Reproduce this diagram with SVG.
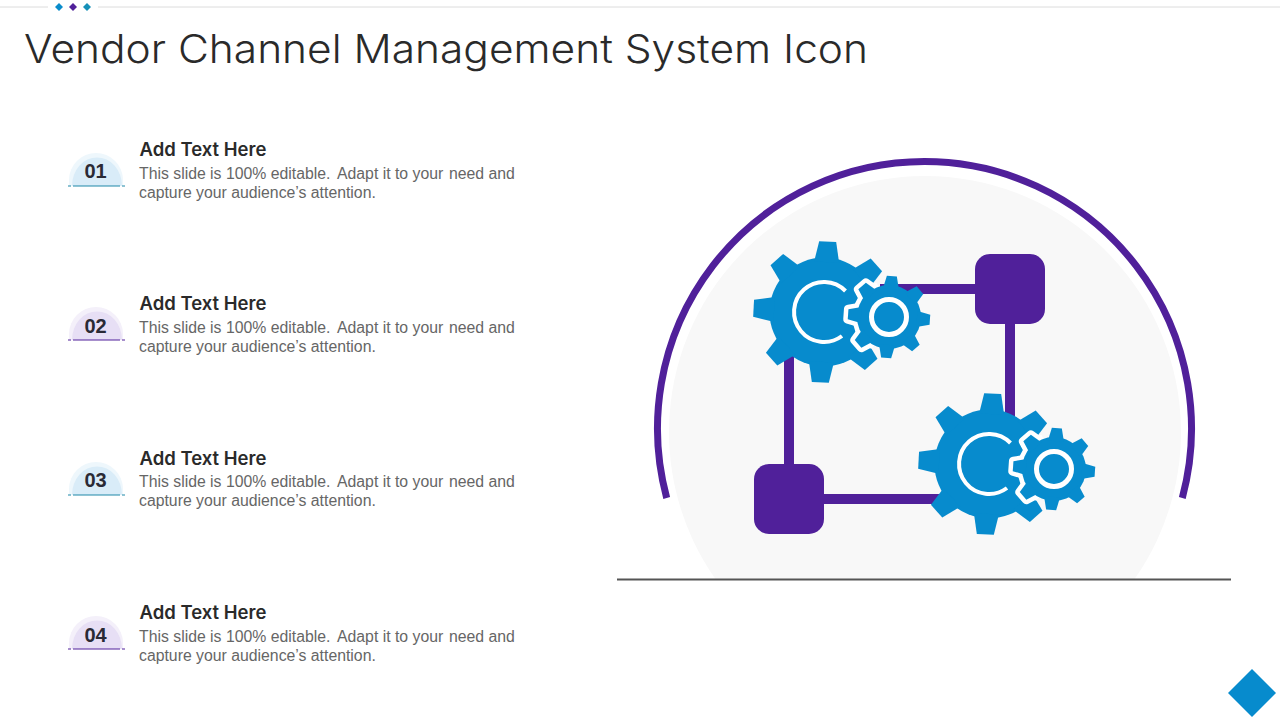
<svg xmlns="http://www.w3.org/2000/svg" width="1280" height="720" viewBox="0 0 1280 720">
<style>
.title{font-family:"Inter","Open Sans",sans-serif;font-weight:300;font-size:40px;fill:#2a2a2a}
.head{font-family:"Inter","Open Sans",sans-serif;font-weight:600;font-size:18.500px;fill:#2a2a2a}
.body{font-family:"Liberation Sans",Arial,sans-serif;font-size:15.800px;fill:#666}
.num{font-family:"Liberation Sans",Arial,sans-serif;font-weight:700;font-size:20px;fill:#2a2a35;text-anchor:middle}
.gear{fill:#078bcd}
.wire{stroke:#50209a;stroke-width:10;fill:none}
.box{fill:#50209a}
.glowb{fill:#eef7fc}
.glowp{fill:#f4f0fa}
.domeb{fill:#d9ecf8}
.domep{fill:#e7dff5}
.lineb{stroke:#1f88a8;stroke-width:1;stroke-dasharray:3 2 47 2 3}
.linep{stroke:#50209a;stroke-width:1;stroke-dasharray:3 2 47 2 3}
</style>
<defs>
<polygon id="tb" points="-12.500,-50 -8.500,-70.500 8.500,-70.500 12.500,-50"/>
<polygon id="ts" points="-8,-28 -5,-41 5,-41 8,-28"/>
<g id="bigGear">
<circle r="54.500"/>
<use href="#tb" transform="rotate(3)"/><use href="#tb" transform="rotate(48)"/><use href="#tb" transform="rotate(93)"/><use href="#tb" transform="rotate(138)"/><use href="#tb" transform="rotate(183)"/><use href="#tb" transform="rotate(228)"/><use href="#tb" transform="rotate(273)"/><use href="#tb" transform="rotate(318)"/>
</g>
<g id="smallGear">
<circle r="32"/>
<use href="#ts" transform="rotate(4)"/><use href="#ts" transform="rotate(49)"/><use href="#ts" transform="rotate(94)"/><use href="#ts" transform="rotate(139)"/><use href="#ts" transform="rotate(184)"/><use href="#ts" transform="rotate(229)"/><use href="#ts" transform="rotate(274)"/><use href="#ts" transform="rotate(319)"/>
</g>
<clipPath id="inBig"><circle cx="0" cy="0" r="60"/></clipPath>
<g id="pair">
<use href="#bigGear" class="gear"/>
<path d="M21.500,-21 A30,30 0 1 0 18,24" fill="none" stroke="#fff" stroke-width="4"/>
<g clip-path="url(#inBig)"><use href="#smallGear" transform="translate(65,5)" fill="#fff" stroke="#fff" stroke-width="9" stroke-linejoin="round"/></g>
<use href="#smallGear" transform="translate(65,5)" class="gear"/>
<circle cx="65" cy="5" r="17.500" fill="none" stroke="#fff" stroke-width="5"/>
</g>
</defs>

<rect width="1280" height="720" fill="#fff"/>
<g id="topbar">
<path d="M0 7H48M98 7H1280" stroke="#dcdcdc" stroke-width="1"/>
<polygon points="59,3 63,7 59,11 55,7" fill="#0a8ccb"/>
<polygon points="73,3 77,7 73,11 69,7" fill="#50209a"/>
<polygon points="87,3 91,7 87,11 83,7" fill="#1590b8"/>
</g>
<text class="title" x="24" y="63" textLength="844" lengthAdjust="spacingAndGlyphs">Vendor Channel Management System Icon</text>

<g id="item1">
<path class="glowb" d="M69 186V180A27 27 0 0 1 123 180V186Z"/>
<path class="domeb" d="M72 186A24.500 28 0 0 1 122 186Z"/>
<path class="lineb" d="M68 186H125"/>
<text class="num" x="95.500" y="178">01</text>
<text class="head" x="139.500" y="156">Add Text Here</text>
<text class="body" y="179"><tspan x="139">This slide is 100% editable.</tspan><tspan x="337">Adapt it to your</tspan><tspan x="449">need and</tspan></text>
<text class="body" x="139" y="198">capture your audience’s attention.</text>
</g>
<g id="item2">
<path class="glowp" d="M69 340V334A27 27 0 0 1 123 334V340Z"/>
<path class="domep" d="M72 340A24.500 28 0 0 1 122 340Z"/>
<path class="linep" d="M68 340H125"/>
<text class="num" x="95.500" y="333">02</text>
<text class="head" x="139.500" y="310">Add Text Here</text>
<text class="body" y="333"><tspan x="139">This slide is 100% editable.</tspan><tspan x="337">Adapt it to your</tspan><tspan x="449">need and</tspan></text>
<text class="body" x="139" y="352">capture your audience’s attention.</text>
</g>
<g id="item3">
<path class="glowb" d="M69 495V489A27 27 0 0 1 123 489V495Z"/>
<path class="domeb" d="M72 495A24.500 28 0 0 1 122 495Z"/>
<path class="lineb" d="M68 495H125"/>
<text class="num" x="95.500" y="487">03</text>
<text class="head" x="139.500" y="465">Add Text Here</text>
<text class="body" y="487"><tspan x="139">This slide is 100% editable.</tspan><tspan x="337">Adapt it to your</tspan><tspan x="449">need and</tspan></text>
<text class="body" x="139" y="506">capture your audience’s attention.</text>
</g>
<g id="item4">
<path class="glowp" d="M69 649V643A27 27 0 0 1 123 643V649Z"/>
<path class="domep" d="M72 649A24.500 28 0 0 1 122 649Z"/>
<path class="linep" d="M68 649H125"/>
<text class="num" x="95.500" y="642">04</text>
<text class="head" x="139.500" y="619">Add Text Here</text>
<text class="body" y="642"><tspan x="139">This slide is 100% editable.</tspan><tspan x="337">Adapt it to your</tspan><tspan x="449">need and</tspan></text>
<text class="body" x="139" y="661">capture your audience’s attention.</text>
</g>

<g id="backdrop">
<path d="M715.400 579A256 256 0 1 1 1134.600 579Z" fill="#f8f8f8"/>
<path d="M666.700 498A267 267 0 1 1 1182.300 498" fill="none" stroke="#50209a" stroke-width="7"/>
<path d="M617 579.500H1231" stroke="#555" stroke-width="2"/>
</g>
<g id="connectors">
<path class="wire" d="M880 289H975M1010 324V420M789 350V464M824 499H940"/>
</g>
<g id="node-top-right"><rect class="box" x="975" y="254" width="70" height="70" rx="15"/></g>
<g id="node-bottom-left"><rect class="box" x="754" y="464" width="70" height="70" rx="15"/></g>
<g id="gears-top"><use href="#pair" transform="translate(824,312)"/></g>
<g id="gears-bottom"><use href="#pair" transform="translate(989,464)"/></g>
<g id="corner"><polygon points="1252,669 1276,693 1252,717 1228,693" fill="#078bcd"/></g>
</svg>
